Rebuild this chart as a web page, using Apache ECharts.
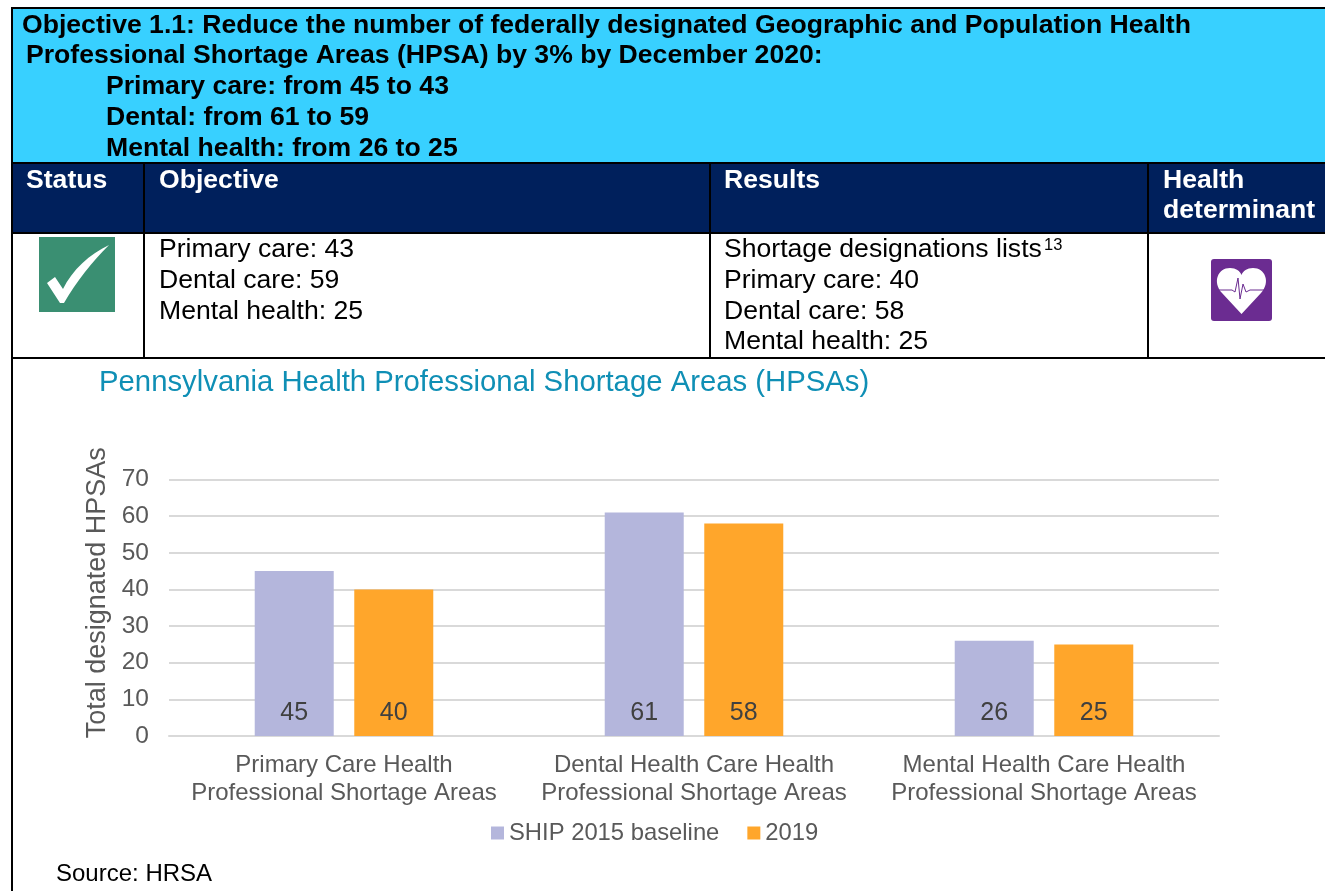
<!DOCTYPE html>
<html><head><meta charset="utf-8">
<style>html,body{margin:0;padding:0;background:#fff}#c{width:1325px;height:891px}</style>
<script src="https://cdn.jsdelivr.net/npm/echarts@6/dist/echarts.min.js"></script>
</head><body><div id="c"></div>
<script>
const categories = ['Primary Care Health\nProfessional Shortage Areas','Dental Health Care Health\nProfessional Shortage Areas','Mental Health Care Health\nProfessional Shortage Areas'];
const baseline2015 = [45, 61, 26];
const results2019 = [40, 58, 25];
const yTicks = [0,10,20,30,40,50,60,70];
const seriesNames = ['SHIP 2015 baseline','2019'];
const chartTitle = 'Pennsylvania Health Professional Shortage Areas (HPSAs)';
const yAxisTitle = 'Total designated HPSAs';
const sourceNote = 'Source: HRSA';
const headerLines = [
 ['Objective 1.1: Reduce the number of federally designated Geographic and Population Health',22,26],
 ['Professional Shortage Areas (HPSA) by 3% by December 2020:',26,56],
 ['Primary care: from 45 to 43',106,87],
 ['Dental: from 61 to 59',106,118],
 ['Mental health: from 26 to 25',106,149]];
const columnHeads = [['Status',26,181],['Objective',159,181],['Results',724,181],['Health',1163,181],['determinant',1163,211]];
const cellLines = [
 ['Primary care: 43',159,250],['Dental care: 59',159,281],['Mental health: 25',159,312],
 ['Shortage designations lists',724,250],['Primary care: 40',724,281],['Dental care: 58',724,312],['Mental health: 25',724,342]];
const FF = '"Liberation Sans", Arial, sans-serif';
echarts.graphic.registerShape('checkMark', echarts.graphic.extendPath('M47 283 L55 277 L63 289 C72 270 90 254 109 245 C92 262 76 282 64 303 L60 303 Z',{}));
echarts.graphic.registerShape('heartMark', echarts.graphic.extendPath('M1241.5 314 L1222 293 C1212 282 1218 268 1230 268 C1236 268 1240 271 1241.5 275 C1243 271 1247 268 1253 268 C1265 268 1271 282 1261 293 Z',{}));
const rect=(x,y,w,h,fill)=>({type:'rect',silent:true,shape:{x,y,width:w,height:h},style:{fill}});
const txt=(s,x,y,size,fill,weight)=>({type:'text',silent:true,x,y,style:{text:s,fill,font:(weight||'normal')+' '+size+'px '+FF,verticalAlign:'middle'}});
const gfx=[
 rect(11,8,1314,155,'#38D0FF'),
 rect(11,163,1314,69,'#00205C'),
 rect(11,7,1314,2,'#000'), rect(11,162,1314,2,'#000'), rect(11,232,1314,2,'#000'), rect(11,357,1314,2,'#000'),
 rect(11,7,2,884,'#000'),
 rect(143,163,2,195,'#000'), rect(709,163,2,195,'#000'), rect(1147,163,2,195,'#000'),
 rect(39,237,76,75,'#3A8F72'),
 {type:'checkMark',silent:true,style:{fill:'#fff'}},
 {type:'rect',silent:true,shape:{x:1211,y:259,width:61,height:62,r:3},style:{fill:'#6B2C91'}},
 {type:'heartMark',silent:true,style:{fill:'#fff'}},
 {type:'polyline',silent:true,shape:{points:[[1216,290],[1232,290],[1235,292],[1238,278],[1240,299],[1243,284],[1246,292],[1250,290],[1267,290]]},style:{stroke:'#6B2C91',fill:'none',lineWidth:1}},
 txt('13',1044,245,16.5,'#000'),
 txt(sourceNote,56,874,24,'#000')
];
headerLines.forEach(l=>gfx.push(txt(l[0],l[1],l[2],26.6,'#000','bold')));
columnHeads.forEach(l=>gfx.push(txt(l[0],l[1],l[2],26.6,'#fff','bold')));
cellLines.forEach(l=>gfx.push(txt(l[0],l[1],l[2],26.6,'#000')));
const labelOpt={show:true,position:'insideBottom',distance:10,color:'#404040',fontSize:25,fontFamily:FF,formatter:'{c}'};
const chart=echarts.init(document.getElementById('c'),null,{renderer:'canvas'});
chart.setOption({
 animation:false,
 backgroundColor:'#fff',
 title:{text:chartTitle,left:99,top:368,padding:0,textStyle:{color:'#0F8FB5',fontSize:29.3,fontWeight:'normal',fontFamily:FF}},
 grid:{left:169,right:106,top:479.5,height:256.5},
 legend:{bottom:46,left:491,itemWidth:13,itemHeight:13,itemGap:28,icon:'rect',padding:0,
  textStyle:{color:'#595959',fontSize:23.8,fontFamily:FF,padding:[0,0,0,0]},data:seriesNames},
 xAxis:{type:'category',data:categories,axisTick:{show:false},
  axisLine:{lineStyle:{color:'#D9D9D9',width:2}},
  axisLabel:{color:'#595959',fontSize:24,lineHeight:28,fontFamily:FF,margin:15,interval:0}},
 yAxis:{type:'value',min:yTicks[0],max:yTicks[yTicks.length-1],interval:10,
  name:yAxisTitle,nameLocation:'middle',nameGap:57,nameRotate:90,
  nameTextStyle:{color:'#595959',fontSize:27,fontFamily:FF,padding:[0,0,0,30]},
  axisLine:{show:false},axisTick:{show:false},
  axisLabel:{color:'#595959',fontSize:24.5,fontFamily:FF,margin:20,padding:[3,0,0,0]},
  splitLine:{lineStyle:{color:'#D9D9D9',width:2}}},
 series:[
  {name:seriesNames[0],type:'bar',data:baseline2015,barWidth:79,barGap:'26%',itemStyle:{color:'#B4B6DC'},label:labelOpt},
  {name:seriesNames[1],type:'bar',data:results2019,barWidth:79,barGap:'26%',itemStyle:{color:'#FFA62B'},label:labelOpt}
 ],
 graphic:{elements:gfx}
});
</script></body></html>
